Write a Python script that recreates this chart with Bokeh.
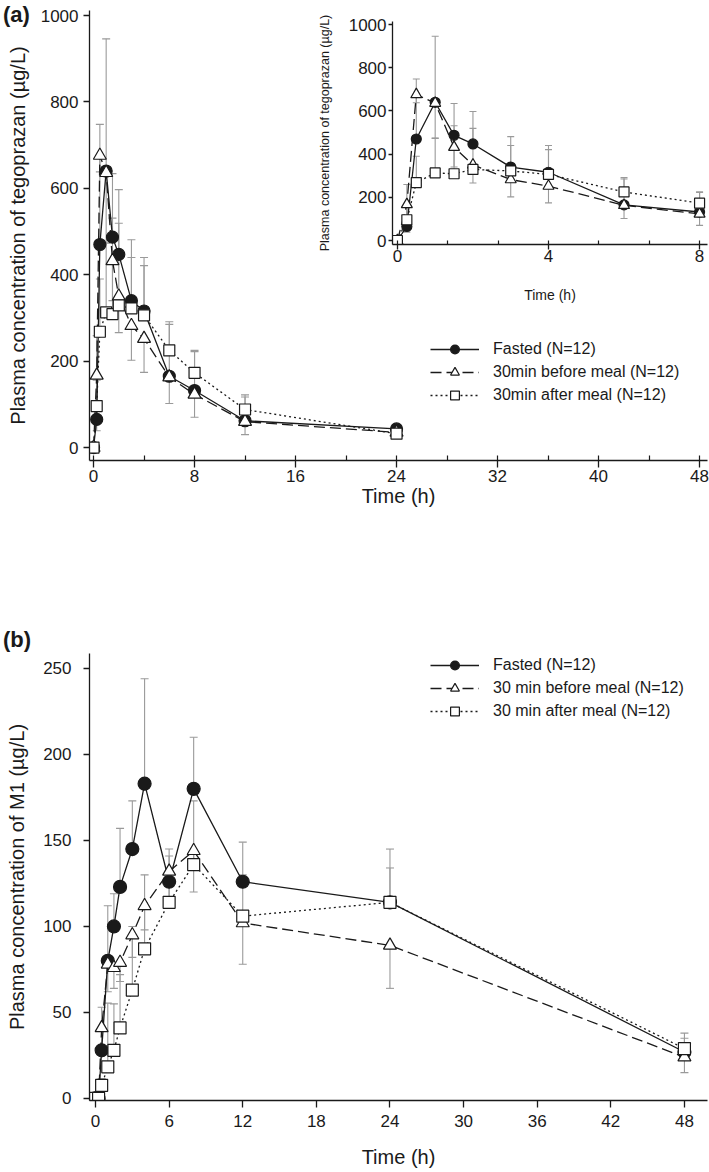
from bokeh.plotting import figure
from bokeh.models import (GridBox, Legend, LegendItem, Div, SingleIntervalTicker, Range1d)
from bokeh.embed import file_html
from bokeh.resources import INLINE

FONT = "Liberation Sans"
INK = "#1a1a1a"
ERR = "#9a9a9a"

# ---------------- data: panel (a) tegoprazan ----------------
times_a = [0, 0.25, 0.5, 1, 1.5, 2, 3, 4, 6, 8, 12, 24]
fasted_a = [0, 65, 470, 640, 487, 447, 340, 316, 165, 132, 62, 43]
before_a = [0, 167, 676, 636, 432, 350, 282, 252, 163, 123, 60, 35]
after_a = [0, 96, 268, 313, 309, 329, 322, 306, 225, 173, 88, 32]
fasted_a_sd = [0, 194, 278, 306, 147, 150, 141, 124, 120, 90, 55, 10]
before_a_sd = [0, 128, 38, 162, 92, 84, 80, 78, 61, 53, 30, 8]
after_a_sd = [0, 60, 122, 160, 222, 190, 118, 115, 66, 52, 34, 8]
labels_a = ["Fasted (N=12)", "30min before meal (N=12)", "30min after meal (N=12)"]

# ---------------- data: panel (b) M1 ----------------
times_b = [0, 0.25, 0.5, 1, 1.5, 2, 3, 4, 6, 8, 12, 24, 48]
fasted_b = [0, 0, 28, 80, 100, 123, 145, 183, 126, 180, 126, 114, 27]
before_b = [0, 0, 41, 78, 76, 79, 95, 112, 132, 144, 102, 89, 24]
after_b = [0, 0, 7.6, 18.4, 28, 41, 63, 87, 114, 136, 106, 114, 29]
fasted_b_sd = [0, 0, 25, 32, 19, 34, 28, 61, 19, 30, 23, 31, 8]
before_b_sd = [0, 0, 14, 16, 12, 11, 13, 14, 15, 24, 24, 25, 9]
after_b_sd = [0, 0, 4, 37, 27, 31, 37, 43, 27, 37, 24, 20, 9]
labels_b = ["Fasted (N=12)", "30 min before meal (N=12)", "30 min after meal (N=12)"]

# error bar direction per series: fasted up, before down, after up
directions = [1, -1, 1]
dashes = ["solid", "11 5", "2 3"]
markers = ["circle", "triangle", "square"]
fills = [INK, "white", "white"]


def make_fig(width, height, xr, yr, left, right, top, bottom):
    p = figure(width=width, height=height, x_range=Range1d(*xr), y_range=Range1d(*yr),
               output_backend="svg", toolbar_location=None, title=None,
               min_border_left=left, min_border_right=right,
               min_border_top=top, min_border_bottom=bottom)
    p.frame_align = False
    p.xgrid.visible = False
    p.ygrid.visible = False
    p.outline_line_color = None
    p.background_fill_color = None
    p.border_fill_color = None
    return p


def style_axis(ax, tick_px, title_px, tick_out, standoff, title_standoff, minor_in=0):
    ax.axis_line_color = INK
    ax.axis_line_width = 1.3
    ax.major_tick_line_color = INK
    ax.major_tick_line_width = 1.3
    ax.major_tick_out = tick_out
    ax.major_tick_in = 0
    ax.minor_tick_line_color = INK
    ax.minor_tick_line_width = 1.2
    ax.minor_tick_in = minor_in
    ax.minor_tick_out = 0
    ax.major_label_text_font = FONT
    ax.major_label_text_font_size = f"{tick_px}px"
    ax.major_label_text_color = INK
    ax.major_label_standoff = standoff
    ax.axis_label_text_font = FONT
    ax.axis_label_text_font_size = f"{title_px}px"
    ax.axis_label_text_font_style = "normal"
    ax.axis_label_text_color = INK
    ax.axis_label_standoff = title_standoff


def draw(p, t, series, sds, sizes, cap):
    for vals, sd, sign in zip(series, sds, directions):
        bx, b0, b1 = [], [], []
        for ti, v, s in zip(t, vals, sd):
            if s > 0:
                bx.append(ti)
                b0.append(v)
                b1.append(v + sign * s)
        p.segment(x0=bx, y0=b0, x1=bx, y1=b1, line_color=ERR, line_width=1.1)
        p.scatter(x=bx, y=b1, marker="dash", size=cap, line_color=ERR, line_width=1.1)
    lines = []
    for vals, dash in zip(series, dashes):
        lines.append(p.line(x=t, y=vals, line_color=INK, line_width=1.3, line_dash=dash))
    marks = []
    for vals, mk, fc, sz in zip(series, markers, fills, sizes):
        marks.append(p.scatter(x=t, y=vals, marker=mk, size=sz, fill_color=fc,
                               line_color=INK, line_width=1.2))
    return lines, marks


def add_legend(p, lines, marks, labels, loc):
    items = [LegendItem(label=lab, renderers=[ln, mk]) for lab, ln, mk in zip(labels, lines, marks)]
    leg = Legend(items=items, location=loc, padding=0, margin=0, spacing=1,
                 glyph_width=49, glyph_height=22, label_height=22, label_standoff=14,
                 label_text_font=FONT, label_text_font_size="16px", label_text_color=INK,
                 border_line_color=None, background_fill_alpha=0)
    p.add_layout(leg)


def panel_tag(text, top):
    return Div(text=text, width=42, height=28, margin=(top, 0, 0, 3),
               styles={"font-family": FONT, "font-size": "22px", "font-weight": "bold",
                       "color": INK, "line-height": "26px"})


# ---------------- panel (a) main ----------------
fig_a = make_fig(709, 515, (-0.32, 48.63), (-30, 1011.6), 89, 2, 10, 55)
fig_a.xaxis.ticker = SingleIntervalTicker(interval=8, num_minor_ticks=2)
fig_a.yaxis.ticker = SingleIntervalTicker(interval=200, num_minor_ticks=0)
fig_a.xaxis.axis_label = "Time (h)"
fig_a.yaxis.axis_label = "Plasma concentration of tegoprazan (µg/L)"
style_axis(fig_a.xaxis[0], 17, 20, 7, 2, 0, minor_in=5)
style_axis(fig_a.yaxis[0], 17, 20, 6, 5, 9)
la, ma = draw(fig_a, times_a, [fasted_a, before_a, after_a],
              [fasted_a_sd, before_a_sd, after_a_sd], [12, 13, 11], 8)
add_legend(fig_a, la, ma, labels_a, (341, 54))

# ---------------- panel (a) inset ----------------
keep = [i for i, ti in enumerate(times_a) if ti <= 8]
t_in = [times_a[i] for i in keep]
ser_in = [[s[i] for i in keep] for s in (fasted_a, before_a, after_a)]
sd_in = [[s[i] for i in keep] for s in (fasted_a_sd, before_a_sd, after_a_sd)]

inset = make_fig(407, 310, (-0.13, 8.21), (-18.5, 1014), 90, 2, 21, 66)
inset.xaxis.ticker = SingleIntervalTicker(interval=4, num_minor_ticks=3)
inset.yaxis.ticker = SingleIntervalTicker(interval=200, num_minor_ticks=0)
inset.xaxis.axis_label = "Time (h)"
inset.yaxis.axis_label = "Plasma concentration of tegoprazan (µg/L)"
style_axis(inset.xaxis[0], 17, 14, 5, 0, 22, minor_in=4)
style_axis(inset.yaxis[0], 17, 12.5, 4, 2, 14)
draw(inset, t_in, ser_in, sd_in, [10, 11, 10], 7)

# ---------------- panel (b) ----------------
fig_b = make_fig(709, 655, (-0.49, 49.88), (-1.2, 258.7), 89, 2, 138, 70)
fig_b.xaxis.ticker = SingleIntervalTicker(interval=6, num_minor_ticks=0)
fig_b.yaxis.ticker = SingleIntervalTicker(interval=50, num_minor_ticks=0)
fig_b.xaxis.axis_label = "Time (h)"
fig_b.yaxis.axis_label = "Plasma concentration of M1 (µg/L)"
style_axis(fig_b.xaxis[0], 17, 20, 7, 7, 16)
style_axis(fig_b.yaxis[0], 17, 20, 6, 12, 12)
lb, mb = draw(fig_b, times_b, [fasted_b, before_b, after_b],
              [fasted_b_sd, before_b_sd, after_b_sd], [13, 13, 12], 8)
add_legend(fig_b, lb, mb, labels_b, (341, 378))

tag_a = panel_tag("(a)", 2)
tag_b = panel_tag("(b)", 112)

grid = GridBox(children=[(fig_a, 0, 0, 2, 2), (inset, 0, 1, 1, 1), (tag_a, 0, 0, 1, 1),
                         (fig_b, 2, 0, 1, 2), (tag_b, 2, 0, 1, 1)],
               rows=["310px", "205px", "655px"], cols=["302px", "407px"])

open("out.html", "w").write(file_html(grid, INLINE))
